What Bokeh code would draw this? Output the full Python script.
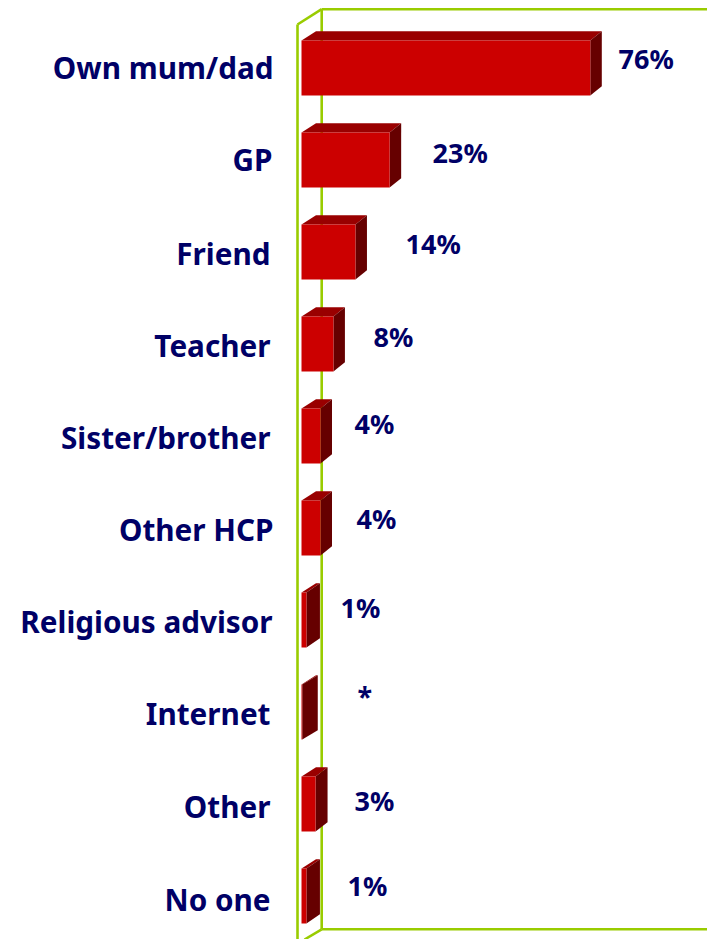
from bokeh.plotting import figure
from bokeh.models import Range1d
from bokeh.core.properties import value
from bokeh.embed import file_html
from bokeh.resources import INLINE

# ---- data ----
categories = ["Own mum/dad", "GP", "Friend", "Teacher", "Sister/brother",
              "Other HCP", "Religious advisor", "Internet", "Other", "No one"]
bar_values = [76, 23.2, 14.2, 8.4, 5, 5, 1.3, 0.2, 3.7, 1.3]
value_labels = ["76%", "23%", "14%", "8%", "4%", "4%", "1%", "*", "3%", "1%"]

# ---- layout (pixels on the page) ----
W, H = 707, 939
ORIGIN_X, PX_PER_PCT = 301, 3.8
FIRST_Y, STEP_Y = 67.5, 92
BAR_H = 55
DX_TOP, DY = 14.5, 9.2
side_depth_px = [11.5, 11.5, 11.5, 11.5, 11.5, 11.5, 13.5, 15.5, 12, 13.5]
cat_right_px = [273, 272, 270, 270, 270, 273, 272, 270, 270, 270]
cat_y_px = [67, 159, 253, 345, 437, 529, 621, 713, 806, 899]
val_left_px = [618, 432, 405, 373, 354, 356, 340, 357, 354, 347]
val_y_px = [57.5, 151.5, 242.5, 335.5, 422.5, 517.5, 606.5, 695.5, 799.5, 884.5]
GREEN = "#99CC00"
NAVY = "#000066"
FONT = "Noto Sans"


def dx(px):
    return px / PX_PER_PCT


def dy(px):
    return px / STEP_Y


def xd(px):
    return (px - ORIGIN_X) / PX_PER_PCT


def yd(px):
    return (px - FIRST_Y) / STEP_Y


p = figure(width=W, height=H, output_backend="svg", toolbar_location=None,
           x_range=Range1d(xd(0), xd(W)), y_range=Range1d(yd(H), yd(0)),
           min_border=0, min_border_left=0, min_border_right=0,
           min_border_top=0, min_border_bottom=0, outline_line_color=None)
p.xaxis.visible = False
p.yaxis.visible = False
p.grid.visible = False

# green 3-D frame
LEFT, BACK, TOP, FRONT_TOP, FLOOR, END_R = 297, 321.2, 8.7, 24, 928.8, W
LW = 2.6
for xs, ys in [([BACK, END_R], [TOP, TOP]),
               ([LEFT, BACK], [FRONT_TOP, TOP]),
               ([LEFT, LEFT], [FRONT_TOP, H]),
               ([BACK, BACK], [TOP, FLOOR]),
               ([BACK, END_R], [FLOOR, FLOOR]),
               ([BACK, 304], [FLOOR, H])]:
    p.line([xd(x) for x in xs], [yd(y) for y in ys], line_color=GREEN, line_width=LW)

# 3-D bars
for i, v in enumerate(bar_values):
    half = dy(BAR_H / 2)
    t, b = i - half, i + half
    depth = dx(side_depth_px[i])
    top_xs = [0, dx(DX_TOP), v + depth, v]
    top_ys = [t, t - dy(DY), t - dy(DY), t]
    p.patch(top_xs, top_ys, fill_color="#990000", line_color=None)
    side_xs = [v, v + depth, v + depth, v]
    side_ys = [t, t - dy(DY), b - dy(DY), b]
    p.patch(side_xs, side_ys, fill_color="#660000", line_color=None)
    p.quad(left=[0], right=[v], top=[t], bottom=[b], fill_color="#CC0000", line_color=None)

# labels
p.text([xd(x) for x in cat_right_px], [yd(y) for y in cat_y_px], text=categories,
       text_align="right", text_baseline="middle", text_color=NAVY,
       text_font=value(FONT), text_font_style="bold", text_font_size="29.7px")
p.text([xd(x) for x in val_left_px], [yd(y) for y in val_y_px], text=value_labels,
       text_align="left", text_baseline="middle", text_color=NAVY,
       text_font=value(FONT), text_font_style="bold", text_font_size="27px")

open("out.html", "w").write(file_html(p, INLINE))
